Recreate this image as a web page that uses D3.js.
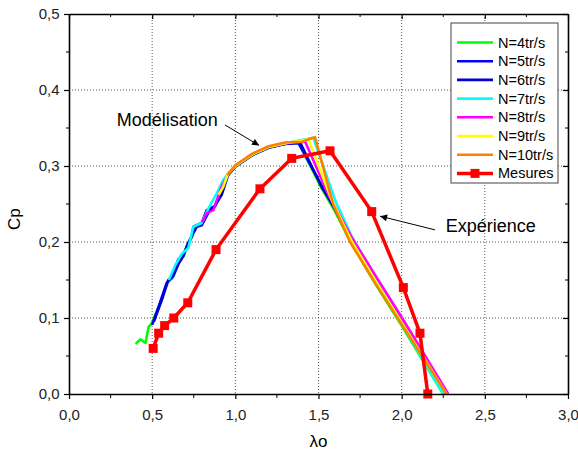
<!DOCTYPE html>
<html>
<head>
<meta charset="utf-8">
<script src="https://cdn.jsdelivr.net/npm/d3@7"></script>
<style>
  body { margin: 0; background: #fff; }
  svg { font-family: "Liberation Sans", Arial, sans-serif; }
</style>
</head>
<body>
<svg id="chart" width="578" height="452"></svg>
<script>
// model curves, [lambda, Cp]
const n4 = [[0.40,0.066],[0.43,0.072],[0.46,0.067],[0.478,0.088],[0.497,0.093],[0.55,0.12],[0.59,0.147],[0.62,0.152],[0.66,0.176],[0.69,0.182],[0.71,0.195],[0.74,0.207],[0.75,0.218],[0.80,0.226],[0.83,0.24],[0.88,0.248],[0.91,0.265],[0.95,0.286],[1.0,0.299],[1.1,0.314],[1.2,0.324],[1.3,0.329],[1.38,0.331],[1.52,0.27],[1.6,0.24],[1.7,0.197],[1.85,0.142],[2.0,0.09],[2.25,0.0]];
const n5 = [[0.50,0.091],[0.547,0.12],[0.587,0.146],[0.617,0.153],[0.657,0.177],[0.687,0.181],[0.708,0.194],[0.738,0.207],[0.748,0.22],[0.798,0.225],[0.828,0.242],[0.878,0.247],[0.908,0.264],[0.948,0.286],[1.0,0.299],[1.1,0.314],[1.2,0.324],[1.3,0.329],[1.38,0.33],[1.53,0.27],[1.6,0.243],[1.7,0.199],[1.85,0.146],[2.0,0.094],[2.27,0.0]];
const n6 = [[0.51,0.095],[0.56,0.125],[0.597,0.15],[0.627,0.155],[0.66,0.172],[0.678,0.178],[0.717,0.199],[0.768,0.22],[0.798,0.222],[0.848,0.243],[0.87,0.245],[0.918,0.262],[0.958,0.289],[1.0,0.3],[1.1,0.315],[1.2,0.325],[1.3,0.33],[1.39,0.331],[1.52,0.272],[1.6,0.244],[1.7,0.2],[1.85,0.147],[2.0,0.095],[2.27,0.0]];
const n7 = [[0.60,0.15],[0.64,0.17],[0.68,0.185],[0.717,0.192],[0.748,0.22],[0.798,0.225],[0.84,0.245],[0.888,0.264],[0.928,0.282],[0.96,0.29],[1.0,0.3],[1.1,0.315],[1.2,0.325],[1.3,0.33],[1.469,0.337],[1.6,0.255],[1.7,0.207],[1.85,0.15],[2.0,0.093],[2.25,0.0]];
const n8 = [[0.80,0.226],[0.828,0.238],[0.868,0.242],[0.918,0.273],[0.96,0.29],[1.0,0.3],[1.1,0.315],[1.2,0.325],[1.3,0.33],[1.42,0.332],[1.56,0.262],[1.7,0.206],[1.85,0.153],[2.0,0.101],[2.28,0.0]];
const n9 = [[0.90,0.262],[0.928,0.273],[0.958,0.291],[1.0,0.3],[1.1,0.315],[1.2,0.325],[1.3,0.33],[1.44,0.335],[1.58,0.255],[1.7,0.201],[1.85,0.146],[2.0,0.094],[2.27,0.0]];
const n10 = [[0.95,0.288],[1.0,0.301],[1.1,0.316],[1.2,0.326],[1.3,0.331],[1.4,0.332],[1.479,0.338],[1.589,0.249],[1.69,0.2],[1.85,0.143],[2.02,0.085],[2.27,0.0]];

// measurements
const mesX = [0.506,0.539,0.575,0.63,0.714,0.884,1.148,1.339,1.569,1.82,2.01,2.11,2.157];
const mesY = [0.06,0.08,0.09,0.10,0.12,0.19,0.27,0.31,0.32,0.24,0.14,0.08,0.0];

const seriesNames = ["N=4tr/s","N=5tr/s","N=6tr/s","N=7tr/s","N=8tr/s","N=9tr/s","N=10tr/s"];
const seriesColors = ["#00ff00","#0000ff","#0000d0","#00ffff","#ff00ff","#ffff00","#ff8000"];
const xTicks = [0, 0.5, 1.0, 1.5, 2.0, 2.5, 3.0];
const yTicks = [0, 0.1, 0.2, 0.3, 0.4, 0.5];

const models = [n4, n5, n6, n7, n8, n9, n10];

var svg = d3.select("#chart");
var pLeft = 69, pRight = 568, pTop = 14, pBottom = 394;

var x = d3.scaleLinear().domain([0, 3]).range([pLeft, pRight]);
var y = d3.scaleLinear().domain([0, 0.5]).range([pBottom, pTop]);
var fmt = d => d3.format(".1f")(d).replace(".", ",");

// grid
svg.append("g").selectAll("line").data(xTicks.slice(1, -1)).join("line")
    .attr("x1", d => x(d)).attr("x2", d => x(d))
    .attr("y1", pTop).attr("y2", pBottom)
    .attr("stroke", "#555").attr("stroke-width", 1).attr("stroke-dasharray", "1,2");
svg.append("g").selectAll("line").data(yTicks.slice(1, -1)).join("line")
    .attr("y1", d => y(d)).attr("y2", d => y(d))
    .attr("x1", pLeft).attr("x2", pRight)
    .attr("stroke", "#555").attr("stroke-width", 1).attr("stroke-dasharray", "1,2");

// model lines
var line = d3.line().x(d => x(d[0])).y(d => y(d[1]));
models.forEach(function(s, i) {
  svg.append("path")
     .datum(s)
     .attr("fill", "none")
     .attr("stroke", seriesColors[i])
     .attr("stroke-width", 2.6)
     .attr("stroke-linejoin", "round")
     .attr("d", line);
});

// measurements
var mes = mesX.map((v, i) => [v, mesY[i]]);
svg.append("path")
   .datum(mes)
   .attr("fill", "none")
   .attr("stroke", "#ff0000")
   .attr("stroke-width", 3.5)
   .attr("d", line);
svg.append("g").selectAll("rect").data(mes).join("rect")
   .attr("x", d => x(d[0]) - 4.5).attr("y", d => y(d[1]) - 4.5)
   .attr("width", 9).attr("height", 9)
   .attr("fill", "#ff0000");

// axes
var bx = svg.append("g").attr("transform", "translate(0," + pBottom + ")")
   .call(d3.axisBottom(x).tickValues(xTicks).tickFormat(fmt).tickSize(5).tickSizeOuter(0));
var ly = svg.append("g").attr("transform", "translate(" + pLeft + ",0)")
   .call(d3.axisLeft(y).tickValues(yTicks).tickFormat(fmt).tickSize(5).tickSizeOuter(0));
var tx = svg.append("g").attr("transform", "translate(0," + pTop + ")")
   .call(d3.axisBottom(x).tickValues(xTicks).tickFormat("").tickSize(5).tickSizeOuter(0));
var ry = svg.append("g").attr("transform", "translate(" + pRight + ",0)")
   .call(d3.axisLeft(y).tickValues(yTicks).tickFormat("").tickSize(5).tickSizeOuter(0));

// minor ticks
var xMinor = [0.25, 0.75, 1.25, 1.75, 2.25, 2.75];
var yMinor = [0.05, 0.15, 0.25, 0.35, 0.45];
bx.append("g").selectAll("line").data(xMinor).join("line")
   .attr("x1", d => x(d)).attr("x2", d => x(d)).attr("y1", 0).attr("y2", 4).attr("stroke", "#000");
tx.append("g").selectAll("line").data(xMinor).join("line")
   .attr("x1", d => x(d)).attr("x2", d => x(d)).attr("y1", 0).attr("y2", 3).attr("stroke", "#000");
ly.append("g").selectAll("line").data(yMinor).join("line")
   .attr("y1", d => y(d)).attr("y2", d => y(d)).attr("x1", 0).attr("x2", -3).attr("stroke", "#000");
ry.append("g").selectAll("line").data(yMinor).join("line")
   .attr("y1", d => y(d)).attr("y2", d => y(d)).attr("x1", 0).attr("x2", -3).attr("stroke", "#000");

[bx, ly, tx, ry].forEach(function(g) {
  g.select(".domain").attr("stroke", "#000").attr("stroke-width", 1.6);
  g.selectAll(".tick line").attr("stroke", "#000").attr("stroke-width", 1.2);
  g.selectAll("text").attr("font-size", 15).attr("fill", "#222")
   .attr("font-family", "'Liberation Sans', Arial, sans-serif");
});
bx.selectAll(".tick text").attr("dy", "1.2em");
ly.selectAll(".tick text").attr("dx", "-0.1em");

// axis titles
svg.append("text")
   .attr("x", x(1.5)).attr("y", 447)
   .attr("text-anchor", "middle")
   .attr("font-size", 17)
   .text("λo");
svg.append("text")
   .attr("transform", "translate(20," + y(0.23) + ") rotate(-90)")
   .attr("text-anchor", "middle")
   .attr("font-size", 17)
   .text("Cp");

// annotations
var defs = svg.append("defs");
defs.append("marker")
    .attr("id", "arrow")
    .attr("viewBox", "0 0 10 10")
    .attr("refX", 10).attr("refY", 5)
    .attr("markerWidth", 9).attr("markerHeight", 7)
    .attr("markerUnits", "userSpaceOnUse")
    .attr("orient", "auto")
  .append("path")
    .attr("d", "M0,0 L10,5 L0,10 z")
    .attr("fill", "#000");

svg.append("text").attr("x", x(0.287)).attr("y", y(0.352))
   .attr("font-size", 18).text("Modélisation");
svg.append("line")
   .attr("x1", x(0.938)).attr("y1", y(0.354))
   .attr("x2", x(1.143)).attr("y2", y(0.327))
   .attr("stroke", "#000").attr("stroke-width", 1)
   .attr("marker-end", "url(#arrow)");

svg.append("text").attr("x", x(2.265)).attr("y", y(0.2136))
   .attr("font-size", 18).text("Expérience");
svg.append("line")
   .attr("x1", x(2.2)).attr("y1", y(0.216))
   .attr("x2", x(1.87)).attr("y2", y(0.234))
   .attr("stroke", "#000").attr("stroke-width", 1)
   .attr("marker-end", "url(#arrow)");

// legend
var lg = svg.append("g").attr("transform", "translate(451,23)");
lg.append("rect").attr("width", 107).attr("height", 160)
  .attr("fill", "#fff").attr("stroke", "#444").attr("stroke-width", 1);
var legendNames = seriesNames.concat(["Mesures"]);
var legendColors = seriesColors.concat(["#ff0000"]);
legendNames.forEach(function(name, i) {
  var yy = 19.5 + i * 18.7;
  lg.append("line").attr("x1", 6).attr("x2", 42).attr("y1", yy).attr("y2", yy)
    .attr("stroke", legendColors[i]).attr("stroke-width", i == 7 ? 3.5 : 2.6);
  if (i == 7) {
    lg.append("rect").attr("x", 19.5).attr("y", yy - 4.5).attr("width", 9).attr("height", 9)
      .attr("fill", "#ff0000");
  }
  lg.append("text").attr("x", 47).attr("y", yy + 5)
    .attr("font-size", 14.5).text(name);
});
</script>
</body>
</html>
